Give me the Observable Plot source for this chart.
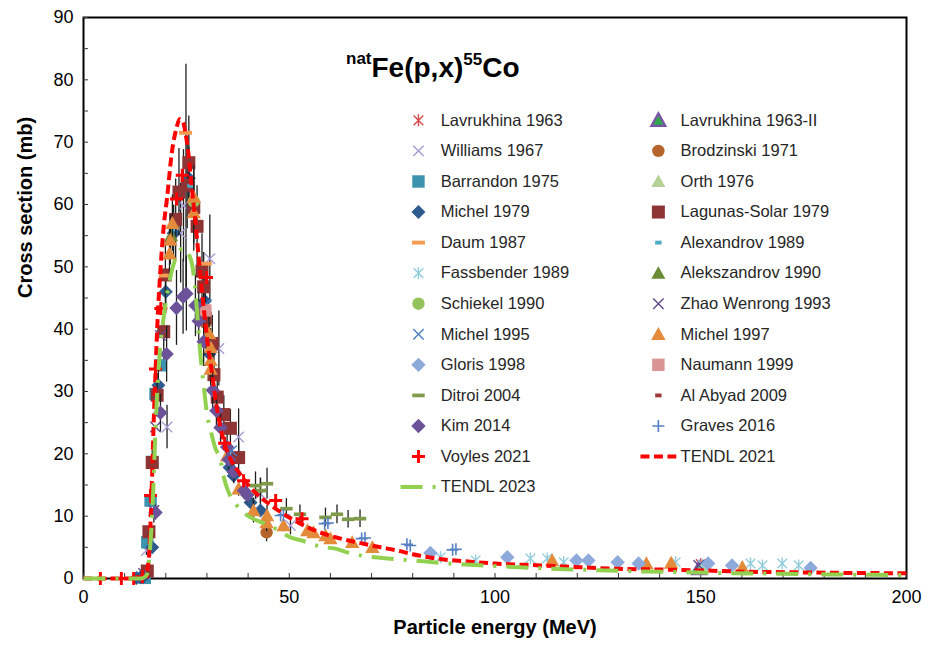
<!DOCTYPE html>
<html>
<head>
<meta charset="utf-8">
<script src="https://cdn.jsdelivr.net/npm/d3@7"></script>
<script src="https://cdn.jsdelivr.net/npm/@observablehq/plot@0.6"></script>
<style>
  body { margin: 0; background: #fff; }
  #chart svg { display: block; }
</style>
</head>
<body>
<div id="chart"></div>
<script>
// natFe(p,x)55Co cross sections: [energy MeV, cross section mb, uncertainty mb (optional)]
const lavrukhina1963 = [[150, 2.3]];
const lavrukhina1963b = [[149.6, 1.6]];
const williams1967 = [[15.3, 4.5, 0.8], [17.1, 10.9, 2], [20.3, 24.3, 3.5], [23.6, 55.4, 8], [24.3, 59.8, 9], [24.9, 63.5, 19], [30.7, 51.3, 7], [32.9, 36.9, 6], [37.7, 22.7, 4.5], [43, 13.6, 2.5], [50.3, 8.5, 1.5]];
const brodzinski1971 = [[29.7, 41, 3], [44.5, 7.4, 1.5]];
const barrandon1975 = [[14.9, 0.1], [15.5, 5.8], [16.3, 12.5], [16.7, 18.7], [17.5, 29.6], [18.7, 34.2]];
const orth1976 = [[150.4, 1.7]];
const michel1979 = [[12.9, 0.1], [13.9, 0.2], [14.6, 0.3], [16.7, 5, 0.5], [18.2, 31, 2.5], [20, 46, 3.5], [21.9, 55.4, 4.5], [25.6, 64.2, 5], [29.5, 44.5, 3.5], [30.6, 36, 3], [36.1, 19.1, 1.5], [35.5, 17.8, 1.5], [36.5, 16.5, 1.3], [40.6, 12.2, 1], [43, 10.9, 0.9]];
const lagunasSolar1979 = [[15.5, 1.2, 0.2], [15.9, 7.5, 1], [16.7, 18.6, 2], [17.9, 29.4, 3.5], [19.5, 39.6, 4.5], [19.9, 48.7, 5.5], [22.4, 57.6, 6.5], [23.2, 62, 7], [25.2, 63.1, 7], [25.6, 66.7, 7.5], [26.8, 59.5, 7], [27.6, 56.5, 6.5], [28.8, 49.3, 6], [29.2, 46.8, 5.5], [29.6, 41.8, 5], [31.3, 37.7, 4.5], [31.7, 32.7, 4], [32.5, 29.1, 3.5], [34.1, 26.3, 3], [35.7, 24.1, 3], [37.7, 19.4, 2.5]];
const daum1987 = [[19.9, 48.6], [24.8, 71.5], [29.6, 50.5]];
const alexandrov1989 = [[21.5, 56], [26, 63]];
const fassbender1989 = [[86.8, 3.4], [95.3, 2.9], [108.6, 3.2], [112.7, 3.2], [116.7, 2.6], [143.9, 2.6], [150.5, 2.2], [162.1, 2.4], [165, 2.1], [169.8, 2.4], [173.8, 2.1]];
const alekszandrov1990 = [[21.3, 55]];
const schiekel1990 = [[26.8, 60.5]];
const zhaoWenrong1993 = [[14.6, 0.8], [17.1, 10.9], [17.5, 24.3], [18.7, 39], [149.5, 2.1]];
const michel1995 = [[29.8, 44], [36, 20.5]];
const michel1997 = [[20.9, 52.1, 4], [21.1, 54.3, 4], [21.6, 57, 4.5], [26.8, 61.2, 5], [26.8, 58.7, 5], [30.5, 39.3, 3], [30.9, 37.1, 3], [30.9, 35, 2.8], [30.9, 33.6, 2.7], [34.9, 19.7, 1.6], [37.7, 14.4, 1.2], [41.3, 10.9, 2], [44.6, 10.1, 1.6], [44.5, 9, 1.5], [48.6, 8.5, 1], [54.4, 7.7, 0.8], [55.9, 7.4, 0.8], [58.8, 6.9, 0.7], [60, 6.4, 0.7], [65.3, 5.8, 0.6], [70.2, 5, 0.5], [113.9, 2.9], [136.8, 2.4], [142.8, 2.5], [160.1, 1.8]];
const gloris1998 = [[84.3, 4.1], [103, 3.4], [119.8, 2.9], [122.7, 2.9], [129.8, 2.6], [134.9, 2.4], [151.8, 2.4], [157.6, 2.1], [176.7, 1.7]];
const naumann1999 = [[29.6, 43]];
const ditroi2004 = [[41.8, 14.9, 2.2], [43, 14.1, 2], [44.6, 15.2, 2.5], [49.3, 11.2, 1.6], [52.6, 10.3, 1.5], [58.8, 9.8, 1.5], [61.6, 10.3, 1.5], [64.3, 9.5, 1.4], [67.2, 9.6, 1.4]];
const alAbyad2009 = [[15.6, 1.5], [16.1, 8]];
const kim2014 = [[17.5, 10.6, 1.2], [18.7, 26.6, 3], [20.2, 36, 4.5], [22.6, 43.4, 6], [24.2, 45.2, 6], [25, 45.7, 6], [27.2, 43.8, 5], [28, 41.3, 4.5], [29.2, 38, 4], [31.4, 30.2, 3], [32.3, 26.9, 2.7], [33.3, 24.2, 2.4], [34.9, 21.1, 2], [35.3, 19.1, 1.9], [36.5, 17.1, 1.7], [39, 14.1, 1.4], [39.8, 13.4, 1.3]];
const graves2016 = [[47.9, 10.1], [48.6, 10.2], [58.6, 8.8], [59.4, 8.9], [67.6, 6.4], [68.4, 6.5], [78.6, 5.5], [79.4, 5.3], [89.7, 4.6], [90.5, 4.7]];
const voyles2021 = [[4.1, 0], [9.2, 0], [12.2, 0], [14.3, 0.3], [16.3, 13.3], [17.5, 33.6], [18.8, 43.3], [22.6, 60.9], [24, 64.7], [29.9, 48.3], [34.3, 21.7], [38.9, 15.7], [46.7, 12.5], [53.1, 9.6]];
const tendl2021 = [[0, 0], [13, 0], [14, 0.1], [15, 0.5], [15.5, 1.3], [16, 4.5], [16.3, 9], [16.7, 17], [17.1, 26], [17.5, 33], [17.9, 40], [18.7, 49.5], [19.5, 56.5], [20.3, 61], [21.5, 68.5], [22.5, 72], [23.4, 73.7], [24.2, 73.2], [24.8, 71.4], [25.6, 67.6], [26.2, 63.4], [27, 58.5], [28, 51.5], [29.2, 43.5], [30.2, 37.5], [31, 34], [32.5, 27], [34, 22.3], [36, 18.8], [38, 16.8], [40, 15], [42, 13.6], [44.6, 12.2], [47.4, 10.9], [51, 9.4], [55.2, 8], [58.3, 7.2], [62.5, 6.4], [66.5, 5.8], [72.2, 5], [76.2, 4.5], [80, 3.9], [87, 3.1], [94, 2.7], [100, 2.4], [111, 2.1], [121, 1.8], [130, 1.55], [139, 1.45], [150, 1.3], [160, 1.1], [172, 1], [184, 0.9], [200, 0.85]];
const tendl2023 = [[0, 0], [14, 0], [15, 0.3], [15.5, 0.8], [16, 3.5], [16.5, 8], [17, 15], [17.5, 24], [18, 31], [18.5, 36], [19.5, 42], [21, 48], [22.8, 52], [24.3, 53], [25.6, 52], [26.5, 50], [27.2, 46], [27.8, 41], [28.4, 36], [29.2, 31], [30, 26.5], [31, 23.5], [32, 21], [33.3, 19], [34.2, 16], [35, 14.3], [37.3, 11.7], [40.6, 9.8], [43.4, 9], [47.5, 7.7], [50.3, 6.6], [53, 6.1], [58.4, 5], [61.2, 4.8], [64, 4.2], [69.3, 3.5], [72.6, 3.3], [80, 2.9], [89, 2.4], [100, 2], [113, 1.6], [124, 1.35], [135, 1.15], [146, 1], [158, 0.85], [170, 0.75], [181, 0.65], [192, 0.6], [200, 0.55]];

// Axis ticks and labels
const xTicks = d3.range(0, 201, 10);
const yTicks = d3.range(0, 91, 5);
const xLabels = [0, 50, 100, 150, 200];
const yLabels = [0, 10, 20, 30, 40, 50, 60, 70, 80, 90];

// Marker shapes; the size passed by Plot is pi*r^2, so r is recovered as the half extent
const half = (s) => Math.sqrt(s / Math.PI);
const shapes = {
  square: { draw(c, s) { const r = half(s); c.moveTo(-r, -r); c.lineTo(r, -r); c.lineTo(r, r); c.lineTo(-r, r); c.closePath(); } },
  diamond: { draw(c, s) { const r = half(s); c.moveTo(0, -r); c.lineTo(r, 0); c.lineTo(0, r); c.lineTo(-r, 0); c.closePath(); } },
  triangle: { draw(c, s) { const r = half(s); c.moveTo(0, -r); c.lineTo(r, 0.8 * r); c.lineTo(-r, 0.8 * r); c.closePath(); } },
  circle: { draw(c, s) { const r = half(s); c.moveTo(r, 0); c.arc(0, 0, r, 0, 2 * Math.PI); c.closePath(); } },
  dash: { draw(c, s) { const r = half(s), h = r * 0.3; c.moveTo(-r, -h); c.lineTo(r, -h); c.lineTo(r, h); c.lineTo(-r, h); c.closePath(); } },
  bar: { draw(c, s) { const r = half(s), h = r * 0.6; c.moveTo(-r, -h); c.lineTo(r, -h); c.lineTo(r, h); c.lineTo(-r, h); c.closePath(); } },
  plus: { draw(c, s) { const r = half(s); c.moveTo(-r, 0); c.lineTo(r, 0); c.moveTo(0, -r); c.lineTo(0, r); } },
  times: { draw(c, s) { const r = half(s) * 0.8; c.moveTo(-r, -r); c.lineTo(r, r); c.moveTo(r, -r); c.lineTo(-r, r); } },
  star: { draw(c, s) { const r = half(s), d = r * 0.8; c.moveTo(-d, -d); c.lineTo(d, d); c.moveTo(d, -d); c.lineTo(-d, d); c.moveTo(0, -r); c.lineTo(0, r); } }
};

// Series in drawing order (also the row-wise order of the two-column legend)
const series = [
  { name: "Lavrukhina 1963", data: lavrukhina1963, shape: "star", color: "#d94a4a", r: 6, outline: true },
  { name: "Lavrukhina 1963-II", data: lavrukhina1963b, shape: "triangle", color: "#2ea84a", edge: "#7a55a5", r: 7 },
  { name: "Williams 1967", data: williams1967, shape: "times", color: "#a99bd3", r: 6.5, outline: true },
  { name: "Brodzinski 1971", data: brodzinski1971, shape: "circle", color: "#b5652b", r: 6.2 },
  { name: "Barrandon 1975", data: barrandon1975, shape: "square", color: "#3b93ad", r: 6.2 },
  { name: "Orth 1976", data: orth1976, shape: "triangle", color: "#b5d196", r: 7 },
  { name: "Michel 1979", data: michel1979, shape: "diamond", color: "#2e5b8e", r: 7 },
  { name: "Lagunas-Solar 1979", data: lagunasSolar1979, shape: "square", color: "#8e3434", r: 6.5 },
  { name: "Daum 1987", data: daum1987, shape: "dash", color: "#f59b52", r: 6.5 },
  { name: "Alexandrov 1989", data: alexandrov1989, shape: "bar", color: "#4aacc6", r: 3.2 },
  { name: "Fassbender 1989", data: fassbender1989, shape: "star", color: "#92cddc", r: 6, outline: true },
  { name: "Alekszandrov 1990", data: alekszandrov1990, shape: "triangle", color: "#6a8a35", r: 7 },
  { name: "Schiekel 1990", data: schiekel1990, shape: "circle", color: "#93c35a", r: 6.2 },
  { name: "Zhao Wenrong 1993", data: zhaoWenrong1993, shape: "times", color: "#5f4a8b", r: 6.5, outline: true },
  { name: "Michel 1995", data: michel1995, shape: "times", color: "#4a7dbf", r: 6.5, outline: true },
  { name: "Michel 1997", data: michel1997, shape: "triangle", color: "#e38a3b", r: 7.2 },
  { name: "Gloris 1998", data: gloris1998, shape: "diamond", color: "#8eaadb", r: 7.2 },
  { name: "Naumann 1999", data: naumann1999, shape: "square", color: "#d89594", r: 6.2 },
  { name: "Ditroi 2004", data: ditroi2004, shape: "dash", color: "#7f9b4a", r: 6.2 },
  { name: "Al Abyad 2009", data: alAbyad2009, shape: "bar", color: "#a0393a", r: 3.2 },
  { name: "Kim 2014", data: kim2014, shape: "diamond", color: "#6c5399", r: 7.2 },
  { name: "Graves 2016", data: graves2016, shape: "plus", color: "#5581c4", r: 6, outline: true, sw: 1.6 },
  { name: "Voyles 2021", data: voyles2021, shape: "plus", color: "#ff0000", r: 6.5, outline: true, sw: 3 },
  { name: "TENDL 2021", line: tendl2021, color: "#ff0000", dash: "9,4.5" },
  { name: "TENDL 2023", line: tendl2023, color: "#92d050", dash: "22,10,3,10" }
];

function dotStyle(s) {
  const symbol = shapes[s.shape];
  return s.outline
    ? { symbol, r: s.r, fill: "none", stroke: s.color, strokeWidth: s.sw ?? 1.4 }
    : { symbol, r: s.r, fill: s.color, stroke: s.edge ?? "none", strokeWidth: s.edge ? 2.2 : 0 };
}

function lineStyle(s) {
  return { stroke: s.color, strokeWidth: 4, strokeDasharray: s.dash, strokeLinecap: "butt" };
}

const marks = [Plot.frame({ stroke: "#000", strokeWidth: 2 })];

// inward ticks along the bottom and left edges
marks.push(Plot.ruleX(xTicks, { x: (d) => d, y1: 0, y2: 0.8, stroke: "#333", strokeWidth: 1 }));
marks.push(Plot.ruleY(yTicks, { y: (d) => d, x1: 0, x2: 1.2, stroke: "#333", strokeWidth: 1 }));
marks.push(Plot.axisX(xLabels, { tickSize: 0, tickPadding: 12, label: null, fontSize: 18 }));
marks.push(Plot.axisY(yLabels, { tickSize: 0, tickPadding: 10, label: null, fontSize: 18 }));

for (const s of series) {
  if (s.line) {
    marks.push(Plot.line(s.line, { x: (d) => d[0], y: (d) => d[1], curve: "monotone-x", ...lineStyle(s) }));
    continue;
  }
  const withErr = s.data.filter((d) => d.length > 2);
  if (withErr.length) {
    marks.push(Plot.ruleX(withErr, { x: (d) => d[0], y1: (d) => d[1] - d[2], y2: (d) => d[1] + d[2], stroke: "#1e1e1e", strokeWidth: 1.3 }));
  }
  marks.push(Plot.dot(s.data, { x: (d) => d[0], y: (d) => d[1], ...dotStyle(s) }));
}

// two-column legend inside the plot area, placed in data units
const legendX = [81.4, 139.7];
const legendTextX = [86.8, 145.1];
const legendTop = 73.5;
const legendStep = 4.903;
const legend = series.map((s, i) => ({ ...s, lx: legendX[i % 2], tx: legendTextX[i % 2], ly: legendTop - Math.floor(i / 2) * legendStep }));

for (const s of legend) {
  if (s.line) {
    marks.push(Plot.line([[s.lx - 4.35, s.ly], [s.lx + 4.35, s.ly]], { x: (d) => d[0], y: (d) => d[1], ...lineStyle(s) }));
  } else {
    marks.push(Plot.dot([s], { x: "lx", y: "ly", ...dotStyle(s) }));
  }
}
marks.push(Plot.text(legend, { x: "tx", y: "ly", text: "name", textAnchor: "start", fontSize: 16.5, fill: "#262626" }));

// axis titles
marks.push(Plot.text(["Particle energy (MeV)"], { frameAnchor: "bottom", dy: 55, fontSize: 20, fontWeight: "bold", fill: "#000" }));
marks.push(Plot.text(["Cross section (mb)"], { frameAnchor: "left", dx: -58, rotate: -90, fontSize: 20, fontWeight: "bold", fill: "#000" }));

const chart = Plot.plot({
  width: 936,
  height: 651,
  marginLeft: 83,
  marginRight: 30,
  marginTop: 17,
  marginBottom: 73,
  x: { domain: [0, 200] },
  y: { domain: [0, 90] },
  style: { fontFamily: "'Liberation Sans', Arial, sans-serif", fontSize: "18px", color: "#000", background: "#fff", overflow: "visible" },
  marks
});

// reaction title with superscripts
const xs = chart.scale("x"), ys = chart.scale("y");
const title = d3.select(chart).append("text")
  .attr("x", xs.apply(85))
  .attr("y", ys.apply(80.4))
  .attr("text-anchor", "middle")
  .attr("font-family", "'Liberation Sans', Arial, sans-serif")
  .attr("font-weight", "bold")
  .attr("font-size", 28)
  .attr("fill", "#000");
title.append("tspan").attr("font-size", 17).attr("dy", -12.5).text("nat");
title.append("tspan").attr("dy", 12.5).text("Fe(p,x)");
title.append("tspan").attr("font-size", 17).attr("dy", -12).text("55");
title.append("tspan").attr("dy", 12).text("Co");

document.getElementById("chart").append(chart);
</script>
</body>
</html>
